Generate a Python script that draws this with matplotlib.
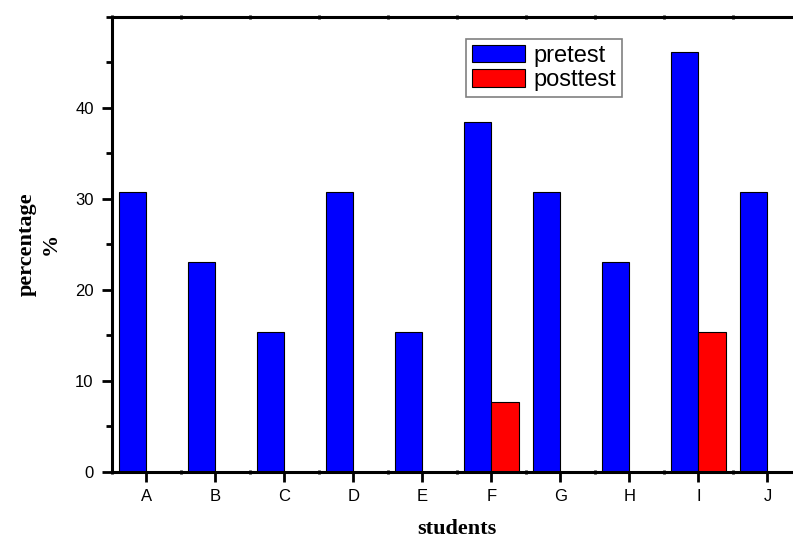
import matplotlib
matplotlib.use("Agg")
import matplotlib.pyplot as plt
import numpy as np
from matplotlib.ticker import MultipleLocator, FixedLocator

students = ["A", "B", "C", "D", "E", "F", "G", "H", "I", "J"]
pretest = [30.77, 23.08, 15.38, 30.77, 15.38, 38.46, 30.77, 23.08, 46.15, 30.77]
posttest = [0, 0, 0, 0, 0, 7.69, 0, 0, 15.38, 0]
y_ticks = [0, 10, 20, 30, 40]

fig = plt.figure(figsize=(7.93, 5.38), dpi=100)
ax = fig.add_axes([111.7/793, 1-472/538, (802-111.7)/793, (472-16.5)/538])

x = np.arange(len(students))
w = 0.4
ax.bar(x - w/2, pretest, width=w, color="#0000FF", edgecolor="black", linewidth=0.8, label="pretest", zorder=2)
ax.bar(x + w/2, posttest, width=w, color="#FF0000", edgecolor="black", linewidth=0.8, label="posttest", zorder=2)

ax.set_xlim(-0.5, 9.5)
ax.set_ylim(0, 50)
ax.set_xticks(x)
ax.set_xticklabels(students, fontfamily="Liberation Sans", fontsize=12)
ax.xaxis.set_minor_locator(FixedLocator(np.arange(-0.5, 10, 1.0)))
ax.set_yticks(y_ticks)
ax.set_yticklabels([str(v) for v in y_ticks], fontfamily="Liberation Sans", fontsize=12)
ax.yaxis.set_minor_locator(MultipleLocator(5))

for s in ["left", "bottom", "top"]:
    ax.spines[s].set_linewidth(2.2)
ax.spines["right"].set_visible(False)

ax.tick_params(axis="y", which="major", direction="out", length=7, width=2, pad=6)
ax.tick_params(axis="y", which="minor", direction="out", length=4, width=2)
ax.tick_params(axis="x", which="major", direction="out", length=7, width=2, pad=5)
ax.tick_params(axis="x", which="minor", direction="inout", length=3, width=2, top=True)

ax.set_xlabel("students", fontfamily="Liberation Serif", fontweight="bold", fontsize=16, labelpad=11)
ax.set_ylabel("percentage\n%", fontfamily="Liberation Serif", fontweight="bold", fontsize=16,
              labelpad=10, linespacing=1.3)

leg = ax.legend(loc="upper left", bbox_to_anchor=(466/793, 1-39/538), bbox_transform=fig.transFigure,
                borderaxespad=0, fancybox=False, edgecolor="#808080", framealpha=1,
                prop={"family": "Liberation Sans", "size": 17},
                handlelength=2.25, handleheight=0.76, handletextpad=0.35, borderpad=0.25, labelspacing=0.1)
leg.get_frame().set_linewidth(1.2)

fig.savefig("out.png", dpi=100)
